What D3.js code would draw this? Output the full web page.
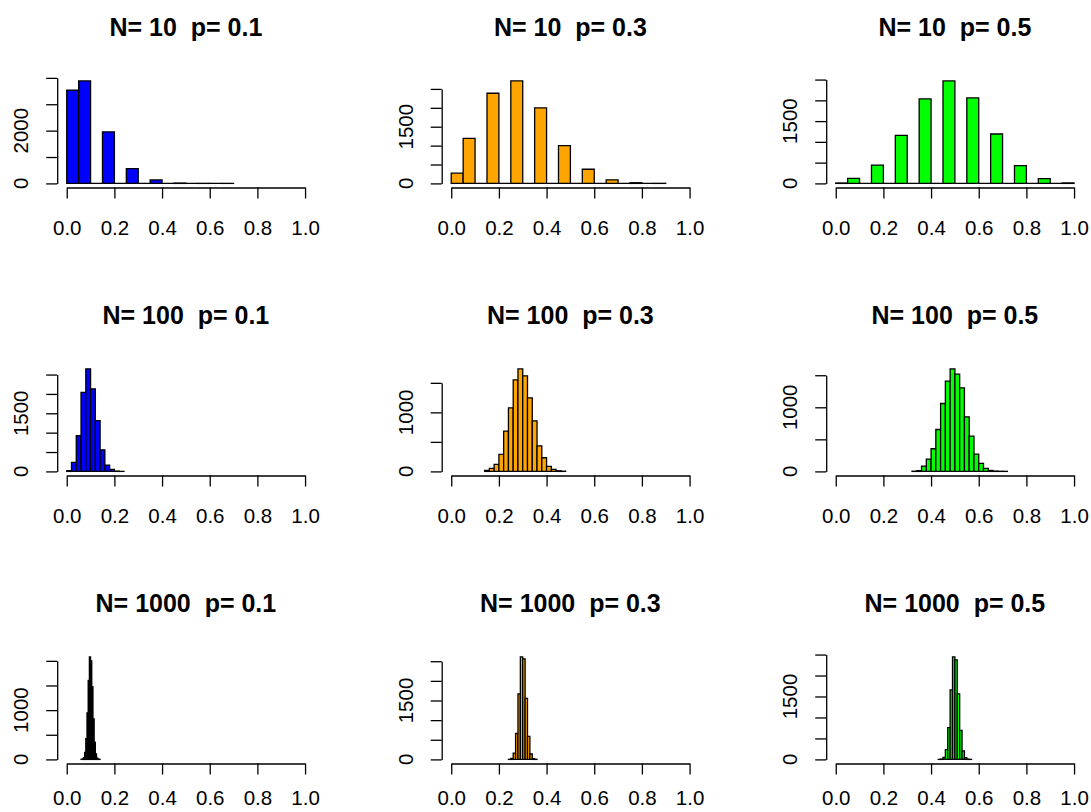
<!DOCTYPE html>
<html lang="en">

<script src="https://d3js.org/d3.v7.min.js"></script>

<head>
    <meta charset="UTF-8">
    <title>Binomial proportions</title>

    <style>
        body {
            margin: 0;
            background: white;
        }

        svg {
            display: block;
            font-family: "Liberation Sans", Arial, Helvetica, sans-serif;
        }

        .panelTitle {
            font-weight: bold;
            white-space: pre;
        }
    </style>
</head>
<body>

    <svg width="1091" height="812"></svg>

    <script>
        // number of trials per row, success probability per column
        const trialSizes = [10, 100, 1000];
        const probs = [0.1, 0.3, 0.5];

        // histogram counts (10000 draws each)
        const countsN10p1 = [3530, 3885, 0, 1950, 0, 560, 0, 130, 0, 15, 0, 2, 0, 1];
        const countsN10p3 = [270, 1190, 0, 2385, 0, 2712, 0, 1996, 0, 1000, 0, 375, 0, 95, 0, 18, 0, 2];
        const countsN10p5 = [10, 120, 0, 442, 0, 1158, 0, 2034, 0, 2468, 0, 2058, 0, 1190, 0, 426, 0, 113, 0, 12];
        const countsN100p1 = [19, 231, 925, 2038, 2646, 2132, 1310, 556, 163, 51, 8, 1];
        const countsN100p3 = [17, 51, 118, 288, 682, 1077, 1550, 1736, 1618, 1246, 857, 434, 231, 85, 34, 11, 4];
        const countsN100p5 = [3, 12, 83, 192, 353, 654, 1059, 1407, 1599, 1516, 1303, 852, 550, 270, 125, 47, 15, 5, 2, 1];
        const countsN1000p1 = [1, 7, 36, 142, 424, 944, 1602, 2080, 2000, 1474, 823, 348, 112, 27, 5, 1];
        const countsN1000p3 = [2, 25, 162, 660, 1670, 2610, 2560, 1553, 585, 137, 20, 2];
        const countsN1000p5 = [1, 7, 49, 235, 759, 1658, 2444, 2374, 1561, 691, 204, 40, 5, 1];

        // first break and break width of each panel (row by row)
        const binStart = [0, 0, 0, 0, 0.14, 0.32, 0.06, 0.24, 0.43];
        const binWidth = [0.05, 0.05, 0.05, 0.02, 0.02, 0.02, 0.005, 0.01, 0.01];

        // y ticks: step, and which ticks get a label
        const yTickStep = [1000, 500, 500, 500, 500, 500, 500, 500, 500];
        const yTickLabels = [[0, 2000], [0, 1500], [0, 1500], [0, 1500], [0, 1000], [0, 1000], [0, 1000], [0, 1500], [0, 1500]];
        const xTickValues = [0, 0.2, 0.4, 0.6, 0.8, 1.0];

        const allCounts = [countsN10p1, countsN10p3, countsN10p5,
                           countsN100p1, countsN100p3, countsN100p5,
                           countsN1000p1, countsN1000p3, countsN1000p5];

        const barColours = ["#0000ff", "#ffa500", "#00ff00"];

        // layout of the 3x3 grid
        const firstLeft = 57.2;
        const firstTop = 76.8;
        const colGap = 384.5;
        const rowGap = 288;
        const plotW = 257.4;
        const plotH = 110.7;
        // bottom row labels sit a bit closer to the axis (picture is cut at the bottom)
        const xLabelPad = [22, 22, 15.5];

        const svgElement = d3.select('svg');

        allCounts.forEach((counts, i) => {
            const row = Math.floor(i / 3);
            const col = i % 3;
            const left = firstLeft + col * colGap;
            const top = firstTop + row * rowGap;
            const bottom = top + plotH;

            const maxCount = d3.max(counts);
            const x = d3.scaleLinear().domain([-0.04, 1.04]).range([left, left + plotW]);
            const y = d3.scaleLinear().domain([-0.04 * maxCount, 1.04 * maxCount]).range([bottom, top]);

            const g = svgElement.append("g");

            // bars (paths so empty bins still show as a line)
            g.selectAll("path.bar")
                .data(counts)
                .enter()
                .append("path")
                .attr("class", "bar")
                .attr("d", (d, k) => {
                    const x0 = x(binStart[i] + k * binWidth[i]);
                    const x1 = x(binStart[i] + (k + 1) * binWidth[i]);
                    return "M" + x0 + "," + y(0) + "H" + x1 + "V" + y(d) + "H" + x0 + "Z";
                })
                .attr("fill", barColours[col])
                .attr("stroke", "black")
                .attr("stroke-width", 1.3);

            // x axis, only over 0..1
            const xAxisScale = d3.scaleLinear().domain([0, 1]).range([x(0), x(1)]);
            const xAxisG = g.append("g")
                .attr("transform", "translate(0," + bottom + ")")
                .call(d3.axisBottom(xAxisScale)
                    .tickValues(xTickValues)
                    .tickFormat(d3.format(".1f"))
                    .tickSize(11)
                    .tickSizeOuter(0)
                    .tickPadding(xLabelPad[row]));
            xAxisG.attr("font-size", null).attr("font-family", null);
            xAxisG.selectAll("text").attr("font-size", "20.5px").attr("fill", "#000");
            xAxisG.selectAll("line, path").attr("stroke", "#000").attr("stroke-width", 1.3);

            // y axis, from 0 to the last tick inside the range
            const lastTick = Math.floor(1.04 * maxCount / yTickStep[i]) * yTickStep[i];
            const yTicks = d3.range(0, lastTick + 1, yTickStep[i]);
            const yAxisScale = d3.scaleLinear().domain([0, lastTick]).range([y(0), y(lastTick)]);
            const yAxisG = g.append("g")
                .attr("transform", "translate(" + left + ",0)")
                .call(d3.axisLeft(yAxisScale)
                    .tickValues(yTicks)
                    .tickFormat("")
                    .tickSize(11)
                    .tickSizeOuter(0));
            yAxisG.selectAll("line, path").attr("stroke", "#000").attr("stroke-width", 1.3);

            // rotated y labels
            g.selectAll("text.ylab")
                .data(yTickLabels[i])
                .enter()
                .append("text")
                .attr("class", "ylab")
                .attr("transform", d => "translate(" + (left - 29.2) + "," + y(d) + ") rotate(-90)")
                .attr("text-anchor", "middle")
                .attr("font-size", "20.5px")
                .text(d => d);

            // panel title
            g.append("text")
                .attr("class", "panelTitle")
                .attr("x", left + plotW / 2)
                .attr("y", top - 41)
                .attr("text-anchor", "middle")
                .attr("font-size", "25px")
                .text("N= " + trialSizes[row] + "  p= " + probs[col]);
        });
    </script>
</body>
</html>
